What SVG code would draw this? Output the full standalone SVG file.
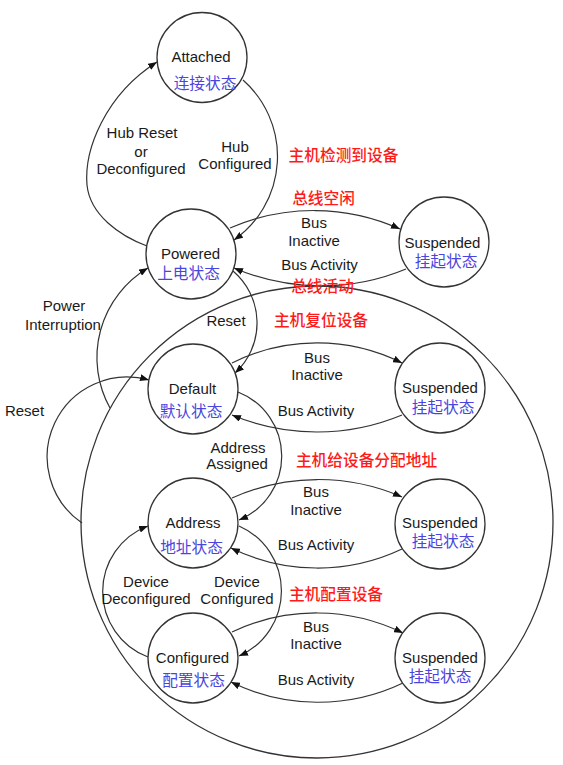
<svg xmlns="http://www.w3.org/2000/svg" width="563" height="765" viewBox="0 0 563 765">
<defs>
<marker id="ah" viewBox="0 0 9 7" refX="9" refY="3.5" markerWidth="9" markerHeight="7" markerUnits="userSpaceOnUse" orient="auto">
<path d="M0,0 L9,3.5 L0,7 z" fill="#111"/>
</marker>
<style>
.bg{fill:#fff}
.region{fill:none;stroke:#333;stroke-width:1.3}
.n circle{fill:#fff;stroke:#333;stroke-width:1.3}
.c path{fill:none;stroke:#333;stroke-width:1.2}
.c .a{marker-end:url(#ah)}
.en{font-family:"Liberation Sans",Arial,sans-serif;font-size:15px;fill:#1a1a1a;text-anchor:middle}
.cn{font-family:"Noto Sans CJK SC","Noto Sans",sans-serif;font-size:15.7px;fill:#4b45e0;text-anchor:middle}
.red{font-family:"Noto Sans CJK SC","Noto Sans",sans-serif;font-size:15.7px;fill:#ff1a1a;text-anchor:middle;font-weight:500}
</style>
</defs>
<rect class="bg" x="0" y="0" width="563" height="765"/>

<g id="powered-region">
<circle class="region" cx="317" cy="522" r="236"/>
</g>

<g id="connectors" class="c">
<!-- Powered -> Attached (Hub Reset or Deconfigured) -->
<path class="a" d="M147,246 C120,236 90,215 87,185 C84,150 105,95 157,62"/>
<!-- Attached -> Powered (Hub Configured) -->
<path class="a" d="M243,80 A102,102 0 0 1 234,240"/>
<!-- Powered <-> Suspended -->
<path class="a" d="M230,228 A210,210 0 0 1 400,229"/>
<path class="a" d="M406,269 A221,221 0 0 1 234,268"/>
<!-- Powered -> Default (Reset) -->
<path class="a" d="M233,271 A68,68 0 0 1 235,373"/>
<!-- Power Interruption -->
<path class="a" d="M110,408 A104,104 0 0 1 148,268"/>
<!-- Reset (left) -->
<path class="a" d="M82,523 A80,80 0 0 1 149,380"/>
<!-- Default <-> Suspended -->
<path class="a" d="M232,363 A190,190 0 0 1 402,363"/>
<path class="a" d="M402,415 A221,221 0 0 1 232,415"/>
<!-- Default -> Address (Address Assigned) -->
<path class="a" d="M238,392 A69,69 0 0 1 239,520"/>
<!-- Address <-> Suspended -->
<path class="a" d="M232,498 A210,210 0 0 1 402,497"/>
<path class="a" d="M402,549 A197,197 0 0 1 231,548"/>
<!-- Address -> Configured (Device Configured) -->
<path class="a" d="M239,526 A71,71 0 0 1 239,656"/>
<!-- Configured -> Address (Device Deconfigured) -->
<path class="a" d="M148,657 A70,70 0 0 1 148,526"/>
<!-- Configured <-> Suspended -->
<path class="a" d="M232,632 A197,197 0 0 1 403,633"/>
<path class="a" d="M403,683 A197,197 0 0 1 231,682"/>
</g>

<g id="attached" class="n">
<circle cx="202" cy="57.5" r="45"/>
<text class="en" x="201" y="62">Attached</text>
<text class="cn" x="205" y="89">连接状态</text>
</g>
<g id="powered" class="n">
<circle cx="191" cy="254" r="45"/>
<text class="en" x="190.5" y="259">Powered</text>
<text class="cn" x="188.5" y="279">上电状态</text>
</g>
<g id="suspended-1" class="n">
<circle cx="444" cy="242" r="45"/>
<text class="en" x="442.5" y="248">Suspended</text>
<text class="cn" x="446" y="267">挂起状态</text>
</g>
<g id="default" class="n">
<circle cx="193" cy="389" r="45"/>
<text class="en" x="192.5" y="394">Default</text>
<text class="cn" x="191" y="417">默认状态</text>
</g>
<g id="suspended-2" class="n">
<circle cx="440" cy="388" r="45"/>
<text class="en" x="440" y="393">Suspended</text>
<text class="cn" x="443" y="412.5">挂起状态</text>
</g>
<g id="address" class="n">
<circle cx="193" cy="523" r="45"/>
<text class="en" x="193" y="528">Address</text>
<text class="cn" x="191.5" y="553">地址状态</text>
</g>
<g id="suspended-3" class="n">
<circle cx="440" cy="524" r="45"/>
<text class="en" x="440" y="528">Suspended</text>
<text class="cn" x="443" y="547">挂起状态</text>
</g>
<g id="configured" class="n">
<circle cx="193" cy="658" r="45"/>
<text class="en" x="192.5" y="663">Configured</text>
<text class="cn" x="193.5" y="686">配置状态</text>
</g>
<g id="suspended-4" class="n">
<circle cx="440" cy="658" r="45"/>
<text class="en" x="440" y="663">Suspended</text>
<text class="cn" x="440" y="682">挂起状态</text>
</g>

<g id="labels">
<text class="en" x="142" y="138">Hub Reset</text>
<text class="en" x="141" y="157">or</text>
<text class="en" x="141" y="174">Deconfigured</text>
<text class="en" x="235" y="152">Hub</text>
<text class="en" x="235" y="169">Configured</text>
<text class="red" x="343.5" y="161">主机检测到设备</text>
<text class="red" x="323.5" y="204">总线空闲</text>
<text class="en" x="314" y="228">Bus</text>
<text class="en" x="314" y="246">Inactive</text>
<text class="en" x="319.5" y="270">Bus Activity</text>
<text class="red" x="322.5" y="292">总线活动</text>
<text class="en" x="64" y="311">Power</text>
<text class="en" x="63" y="330">Interruption</text>
<text class="en" x="226" y="326">Reset</text>
<text class="red" x="321" y="326">主机复位设备</text>
<text class="en" x="24.5" y="416">Reset</text>
<text class="en" x="317" y="363">Bus</text>
<text class="en" x="317" y="380">Inactive</text>
<text class="en" x="316" y="416">Bus Activity</text>
<text class="en" x="238" y="453">Address</text>
<text class="en" x="237" y="469">Assigned</text>
<text class="red" x="366.5" y="466">主机给设备分配地址</text>
<text class="en" x="316" y="497">Bus</text>
<text class="en" x="316" y="515">Inactive</text>
<text class="en" x="316" y="550">Bus Activity</text>
<text class="en" x="146" y="587">Device</text>
<text class="en" x="146" y="604">Deconfigured</text>
<text class="en" x="237" y="587">Device</text>
<text class="en" x="237" y="604">Configured</text>
<text class="red" x="336" y="600">主机配置设备</text>
<text class="en" x="316" y="632">Bus</text>
<text class="en" x="316" y="649">Inactive</text>
<text class="en" x="316" y="685">Bus Activity</text>
</g>
</svg>
